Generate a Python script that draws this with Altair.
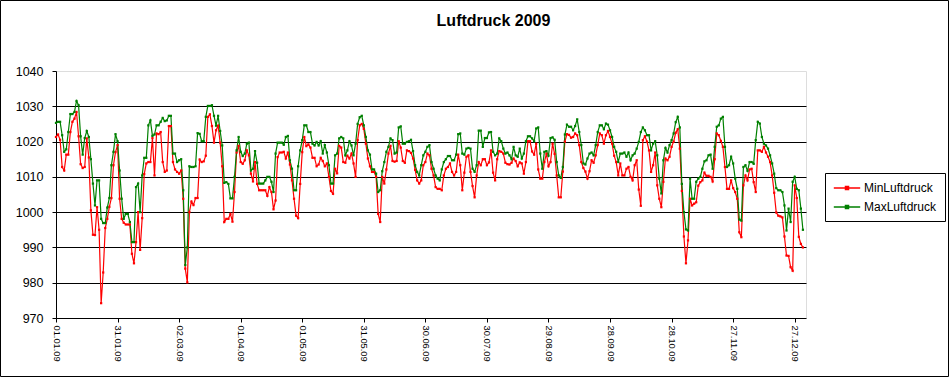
import altair as alt
import pandas as pd

# ---- data ----
max_luftdruck = [
    1025.3, 1025.6, 1025.6, 1021.8, 1017.1, 1017.8, 1022.7, 1027.8, 1027.8, 1028.4,
    1031.5, 1030.3, 1021.5, 1016.3, 1021.0, 1023.0, 1021.3, 1015.0, 1008.1, 1001.9,
    1009.0, 1009.0, 998.1, 996.9, 996.9, 1001.3, 1004.0, 1013.3, 1017.1, 1022.1,
    1020.1, 1011.8, 1003.8, 998.1, 999.5, 999.5, 997.2, 991.5, 991.5, 1007.1,
    1008.1, 1000.0, 1010.4, 1015.4, 1015.4, 1024.6, 1026.0, 1021.6, 1022.0, 1024.6,
    1024.6, 1025.6, 1026.7, 1025.8, 1026.0, 1027.3, 1027.3, 1016.6, 1016.6, 1014.2,
    1014.7, 1015.0, 1006.2, 985.0, 990.0, 1013.0, 1012.8, 1012.8, 1013.0, 1022.4,
    1022.2, 1020.1, 1020.1, 1027.0, 1030.1, 1030.1, 1030.3, 1027.3, 1024.5, 1027.3,
    1023.0, 1018.9, 1008.3, 1008.5, 1008.0, 1003.9, 1003.9, 1010.0, 1017.5, 1021.3,
    1017.1, 1015.9, 1016.6, 1019.4, 1019.7, 1011.8, 1012.3, 1017.3, 1014.0, 1008.1,
    1008.1, 1008.1, 1009.0, 1010.0, 1010.0, 1008.6, 1005.7, 1016.6, 1019.7, 1019.7,
    1019.7, 1019.1, 1021.3, 1021.6, 1014.7, 1012.3, 1006.2, 1006.2, 1013.0, 1017.5,
    1020.4, 1024.6, 1024.6, 1022.7, 1022.7, 1019.4, 1018.9, 1019.9, 1018.9, 1020.1,
    1016.6, 1019.0, 1016.9, 1013.3, 1008.1, 1008.1, 1016.1, 1016.6, 1020.9, 1021.3,
    1020.9, 1016.1, 1017.5, 1020.1, 1018.9, 1016.1, 1019.4, 1025.0, 1026.9, 1027.3,
    1024.6, 1021.3, 1017.5, 1016.3, 1012.1, 1012.1, 1010.9, 1005.7, 1006.2, 1011.6,
    1014.2, 1017.1, 1018.5, 1020.9, 1020.4, 1016.6, 1016.9, 1024.0, 1024.3, 1019.4,
    1019.4, 1019.9, 1020.1, 1020.5, 1017.3, 1013.3, 1011.4, 1010.4, 1013.3, 1016.1,
    1017.1, 1018.5, 1019.0, 1014.2, 1012.3, 1010.4, 1009.5, 1009.0, 1012.1, 1014.2,
    1015.0, 1015.9, 1015.9, 1014.7, 1014.7, 1016.3, 1022.1, 1022.3, 1016.6, 1016.3,
    1018.0, 1018.2, 1018.0, 1012.3, 1011.4, 1013.3, 1023.1, 1023.1, 1018.5, 1021.0,
    1021.0, 1022.6, 1022.7, 1017.1, 1016.1, 1016.6, 1020.9, 1020.1, 1018.0, 1016.6,
    1016.9, 1016.1, 1015.0, 1018.5, 1016.1, 1015.7, 1018.0, 1015.2, 1016.6, 1020.1,
    1021.5, 1021.5, 1020.9, 1020.1, 1023.7, 1024.0, 1016.6, 1012.3, 1017.1, 1017.3,
    1016.0, 1021.0, 1021.2, 1020.5, 1014.2, 1010.4, 1009.7, 1012.8, 1022.0, 1024.8,
    1024.2, 1024.2, 1023.2, 1024.4, 1026.3, 1022.7, 1019.0, 1013.8, 1013.5, 1015.2,
    1016.6, 1016.9, 1016.1, 1019.0, 1022.7, 1024.6, 1024.6, 1023.5, 1025.1, 1024.8,
    1023.2, 1021.3, 1018.5, 1017.1, 1014.2, 1016.6, 1016.6, 1016.9, 1015.7, 1016.9,
    1014.7, 1016.1, 1016.6, 1018.0, 1019.9, 1022.7, 1024.0, 1023.2, 1021.8, 1021.8,
    1017.5, 1019.4, 1020.1, 1016.1, 1009.5, 1005.3, 1014.7, 1018.2, 1016.9, 1019.0,
    1020.4, 1022.3, 1025.5, 1027.0, 1024.0, 1008.0, 1000.0, 995.1, 994.8, 1009.5,
    1003.8, 1003.8, 1008.6, 1009.5, 1010.0, 1012.3, 1014.4, 1014.7, 1016.1, 1016.3,
    1012.3, 1018.5, 1024.2, 1024.6, 1026.5, 1027.0, 1018.5, 1012.8, 1013.3, 1015.7,
    1013.8, 1009.5, 1006.6, 997.9, 997.6, 1012.8, 1013.3, 1011.7, 1014.2, 1014.2,
    1013.7, 1020.4, 1025.6, 1025.1, 1021.3, 1019.4, 1018.9, 1018.0, 1016.1, 1013.8,
    1010.9, 1006.8, 1006.2, 1006.2, 1005.7, 1001.9, 994.8, 1001.0, 997.2, 1008.6,
    1010.0, 1006.6, 1006.2, 1001.0, 995.0,
]

min_luftdruck = [
    1021.3, 1022.0, 1020.5, 1012.8, 1011.8, 1016.3, 1016.3, 1022.7, 1025.6, 1026.5,
    1028.4, 1021.5, 1013.6, 1012.5, 1012.8, 1020.9, 1015.5, 1000.5, 993.6, 993.5,
    1001.4, 995.0, 974.2, 982.9, 995.5, 998.1, 1001.5, 1004.0, 1013.3, 1017.0,
    1019.0, 1003.8, 998.1, 997.0, 996.5, 996.5, 996.5, 988.2, 985.5, 991.5,
    1000.0, 989.3, 998.3, 1010.8, 1013.8, 1014.2, 1014.2, 1021.0, 1010.4, 1022.3,
    1022.1, 1022.7, 1014.2, 1011.4, 1011.8, 1024.4, 1024.4, 1014.2, 1012.1, 1011.4,
    1010.9, 1011.8, 1003.8, 984.0, 980.1, 1000.0, 1003.0, 1002.0, 1004.0, 1004.0,
    1014.9, 1014.2, 1014.4, 1016.0, 1027.0, 1027.7, 1024.4, 1019.7, 1023.2, 1024.5,
    1019.7, 1013.0, 997.2, 998.1, 998.1, 999.5, 997.3, 1005.7, 1016.9, 1018.8,
    1014.2, 1013.7, 1014.7, 1017.5, 1016.1, 1010.9, 1008.7, 1014.2, 1008.0, 1006.2,
    1006.2, 1006.2, 1006.2, 1004.6, 1007.1, 1005.7, 1000.8, 1003.3, 1015.6, 1016.9,
    1016.9, 1017.1, 1015.2, 1016.9, 1013.5, 1009.0, 1003.8, 999.0, 998.3, 1008.0,
    1017.0, 1021.3, 1018.7, 1019.2, 1018.3, 1015.4, 1015.4, 1013.0, 1013.5, 1015.4,
    1014.5, 1013.0, 1013.8, 1010.0, 1006.0, 1005.2, 1012.3, 1011.0, 1018.8, 1018.3,
    1014.2, 1014.0, 1016.0, 1015.2, 1016.6, 1013.8, 1010.0, 1020.4, 1024.6, 1025.0,
    1023.6, 1019.4, 1015.2, 1013.0, 1011.4, 1011.4, 1010.0, 999.5, 997.2, 1010.0,
    1008.1, 1012.1, 1016.6, 1018.8, 1014.5, 1014.3, 1014.5, 1020.1, 1018.3, 1014.5,
    1014.0, 1017.5, 1017.3, 1016.8, 1015.2, 1012.0, 1009.0, 1008.1, 1009.0, 1013.3,
    1014.2, 1016.6, 1016.1, 1012.3, 1010.4, 1007.1, 1006.6, 1006.6, 1006.2, 1010.4,
    1012.3, 1012.8, 1013.8, 1011.4, 1010.4, 1011.4, 1016.3, 1013.3, 1006.2, 1011.2,
    1015.7, 1016.1, 1011.4, 1007.4, 1004.2, 1010.4, 1014.2, 1013.3, 1015.0, 1015.0,
    1013.3, 1014.1, 1017.5, 1011.2, 1009.0, 1015.0, 1017.3, 1017.1, 1016.6, 1014.0,
    1013.6, 1013.5, 1014.0, 1015.2, 1014.5, 1013.0, 1014.1, 1013.8, 1010.9, 1014.2,
    1020.1, 1020.1, 1017.2, 1016.3, 1019.4, 1012.1, 1009.5, 1009.5, 1014.2, 1016.6,
    1013.0, 1014.2, 1019.4, 1016.5, 1010.4, 1004.2, 1004.2, 1011.5, 1020.0, 1022.1,
    1021.9, 1021.1, 1021.3, 1022.3, 1021.8, 1019.0, 1014.2, 1012.5, 1011.5, 1009.5,
    1011.6, 1014.7, 1014.0, 1016.1, 1019.0, 1022.3, 1021.8, 1019.4, 1021.8, 1023.0,
    1021.3, 1019.4, 1016.0, 1014.2, 1010.4, 1013.8, 1010.4, 1010.4, 1012.3, 1012.8,
    1010.0, 1009.0, 1013.3, 1014.7, 1006.4, 1001.8, 1020.4, 1021.5, 1020.0, 1017.5,
    1011.4, 1013.3, 1016.9, 1007.6, 1003.8, 1001.4, 1008.6, 1015.2, 1014.7, 1015.7,
    1018.5, 1020.0, 1022.5, 1023.5, 1018.0, 1006.0, 993.1, 985.5, 992.0, 1003.8,
    1001.9, 1002.4, 1002.8, 1007.5, 1008.5, 1009.0, 1011.2, 1010.3, 1010.3, 1010.0,
    1008.7, 1015.0, 1022.3, 1021.8, 1020.2, 1018.5, 1012.8, 1006.6, 1006.6, 1009.0,
    1006.8, 1005.7, 1003.8, 994.3, 992.9, 1007.6, 1010.4, 1009.0, 1012.1, 1012.3,
    1008.5, 1005.7, 1017.5, 1017.5, 1017.1, 1018.5, 1016.9, 1015.7, 1014.2, 1010.4,
    1005.5, 999.9, 999.0, 998.8, 998.5, 993.1, 987.7, 987.6, 984.4, 983.4,
    1007.6, 1004.0, 993.0, 991.0, 990.0,
]

title_text = "Luftdruck 2009"
series_names = ["MinLuftdruck", "MaxLuftdruck"]
series_colors = ["#FF0000", "#008000"]
tick_days = [0, 30, 60, 90, 120, 150, 180, 210, 240, 270, 300, 330, 360]
tick_labels = ["01.01.09", "31.01.09", "02.03.09", "01.04.09", "01.05.09", "31.05.09",
               "30.06.09", "30.07.09", "29.08.09", "28.09.09", "28.10.09", "27.11.09",
               "27.12.09"]
y_ticks = [970, 980, 990, 1000, 1010, 1020, 1030, 1040]

days = list(range(len(min_luftdruck)))
df = pd.concat([
    pd.DataFrame({"day": days, "value": min_luftdruck, "series": series_names[0], "order": 0}),
    pd.DataFrame({"day": days, "value": max_luftdruck, "series": series_names[1], "order": 1}),
])

FONT = "Liberation Sans"
label_js = "[" + ",".join('"%s"' % t for t in tick_labels) + "]"

x_enc = alt.X("day:Q",
              scale=alt.Scale(domain=[0, 365.5], nice=False, zero=False),
              axis=alt.Axis(values=tick_days, title=None,
                            labelExpr=label_js + "[round(datum.value/30)]",
                            labelAngle=90, labelAlign="left", labelBaseline="middle",
                            labelFont=FONT, labelFontSize=9.3, labelColor="black",
                            labelPadding=3, tickSize=4, tickColor="black",
                            domainColor="black", grid=False, labelOverlap=False))
y_enc = alt.Y("value:Q",
              scale=alt.Scale(domain=[970, 1040], nice=False, zero=False),
              axis=alt.Axis(values=y_ticks, title=None, format="d",
                            labelFont=FONT, labelFontSize=12.5,
                            labelColor="black", labelPadding=9, tickSize=4, tickColor="black",
                            domainColor="black", grid=True,
                            gridColor={"condition": {"test": "datum.value <= 970 || datum.value >= 1040",
                                                     "value": "transparent"},
                                       "value": "black"},
                            gridOpacity=1, gridWidth=1))
color_enc = alt.Color("series:N",
                      scale=alt.Scale(domain=series_names, range=series_colors),
                      legend=alt.Legend(title=None, orient="none", legendX=769, legendY=102,
                                        symbolType="M-2.2,0H2.2M-0.25,-0.25H0.25V0.25H-0.25Z",
                                        symbolSize=144, symbolStrokeWidth=1.5,
                                        symbolOffset=7, labelOffset=10,
                                        labelFont=FONT, labelFontSize=12, labelColor="black",
                                        strokeColor="black", fillColor="white",
                                        padding=8, rowPadding=6))

base = alt.Chart(df).encode(x=x_enc, y=y_enc, color=color_enc, order="order:Q", detail="series:N")

lines = base.mark_line(strokeWidth=1.2, interpolate="linear")
points = base.mark_square(size=5, opacity=1, filled=True)

frame = alt.Chart(alt.Data(values=[{"a": 1}])).mark_rect(
    fill="transparent", stroke="black", strokeWidth=1
).encode(x=alt.value(-55.5), x2=alt.value(892.5), y=alt.value(-70.5), y2=alt.value(305.5))

title = alt.Chart(alt.Data(values=[{"t": title_text}])).mark_text(
    font=FONT, fontSize=16, fontWeight="bold", color="black",
    align="center", baseline="alphabetic"
).encode(text="t:N", x=alt.value(437.5), y=alt.value(-45))

chart = alt.layer(lines, points, frame, title).properties(
    width=750, height=247,
    autosize=alt.AutoSizeParams(type="none"),
    padding={"left": 56, "top": 71, "right": 145, "bottom": 60},
).configure_view(fill="#C0C0C0", stroke="#808080", strokeWidth=1
).configure(background="white")

chart.save("out.html", embed_options={"renderer": "svg", "actions": False})
